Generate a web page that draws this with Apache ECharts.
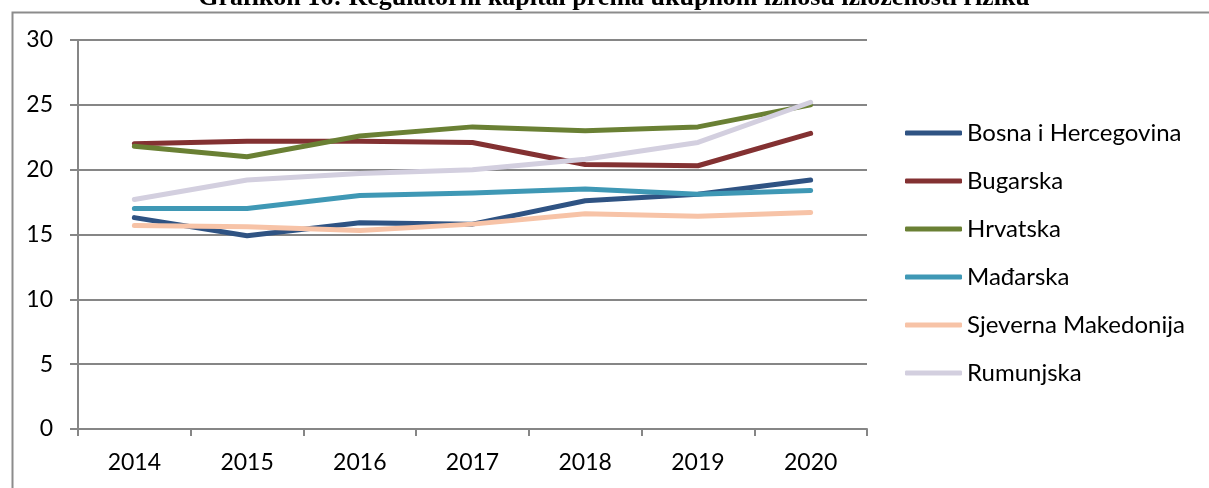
<!DOCTYPE html>
<html>
<head>
<meta charset="utf-8">
<script src="https://cdn.jsdelivr.net/npm/echarts@6/dist/echarts.min.js"></script>
<style>
html,body{margin:0;padding:0;background:#fff;}
#chart{width:1209px;height:488px;}
</style>
</head>
<body>
<div id="chart"></div>
<script>
var titleText = 'Grafikon 16: Regulatorni kapital prema ukupnom iznosu izloženosti riziku';
var categories = ['2014', '2015', '2016', '2017', '2018', '2019', '2020'];
var seriesNames = ['Bosna i Hercegovina', 'Bugarska', 'Hrvatska', 'Mađarska', 'Sjeverna Makedonija', 'Rumunjska'];
var bih = [16.3, 14.9, 15.9, 15.8, 17.6, 18.1, 19.2];
var bugarska = [22.0, 22.2, 22.2, 22.1, 20.4, 20.3, 22.8];
var hrvatska = [21.8, 21.0, 22.6, 23.3, 23.0, 23.3, 25.0];
var madjarska = [17.0, 17.0, 18.0, 18.2, 18.5, 18.1, 18.4];
var sjevernaMakedonija = [15.7, 15.6, 15.3, 15.8, 16.6, 16.4, 16.7];
var rumunjska = [17.7, 19.2, 19.7, 20.0, 20.8, 22.1, 25.2];
var colors = ['#2F5383', '#833132', '#6A8034', '#3F98B5', '#F7C3A7', '#D3CFDF'];

var allData = [bih, bugarska, hrvatska, madjarska, sjevernaMakedonija, rumunjska];
var font = 'Lato, "Open Sans", sans-serif';

var chart = echarts.init(document.getElementById('chart'));
chart.setOption({
  animation: false,
  backgroundColor: '#fff',
  color: colors,
  graphic: [
    {
      type: 'rect', left: 10, top: 10, silent: true,
      shape: { x: 0, y: 0, width: 1240, height: 520 },
      style: { fill: 'none', stroke: '#8c8c8c', lineWidth: 2 }
    },
    {
      type: 'text', x: 614, y: 11, silent: true, z: 10,
      style: {
        text: titleText, fill: '#000',
        font: 'bold 26px "Liberation Serif", "DejaVu Serif", serif',
        align: 'center', verticalAlign: 'bottom'
      }
    }
  ],
  grid: { left: 78, right: 342, top: 40, bottom: 59, containLabel: false },
  legend: {
    orient: 'vertical',
    left: 900,
    top: 116,
    icon: 'roundRect',
    itemWidth: 57,
    itemHeight: 5,
    itemGap: 24,
    data: seriesNames,
    textStyle: { fontFamily: font, fontSize: 24, color: '#000', lineHeight: 24 }
  },
  xAxis: {
    type: 'category',
    data: categories,
    boundaryGap: true,
    axisLine: { show: true, lineStyle: { color: '#868686', width: 2 } },
    axisTick: { show: true, length: 7, inside: false, lineStyle: { color: '#868686', width: 2 } },
    axisLabel: { fontFamily: font, fontSize: 23, color: '#000', margin: 22 },
    splitLine: { show: false }
  },
  yAxis: {
    type: 'value',
    min: 0, max: 30, interval: 5,
    axisLine: { show: true, lineStyle: { color: '#868686', width: 2 } },
    axisTick: { show: true, length: 8, inside: false, lineStyle: { color: '#868686', width: 2 } },
    axisLabel: { fontFamily: font, fontSize: 23, color: '#000', margin: 25 },
    splitLine: { show: true, lineStyle: { color: '#868686', width: 2 } }
  },
  series: seriesNames.map(function (name, i) {
    return {
      name: name,
      type: 'line',
      data: allData[i],
      symbol: 'none',
      smooth: false,
      lineStyle: { width: 5, color: colors[i], cap: 'round', join: 'round' },
      itemStyle: { color: colors[i] }
    };
  })
});
</script>
</body>
</html>
